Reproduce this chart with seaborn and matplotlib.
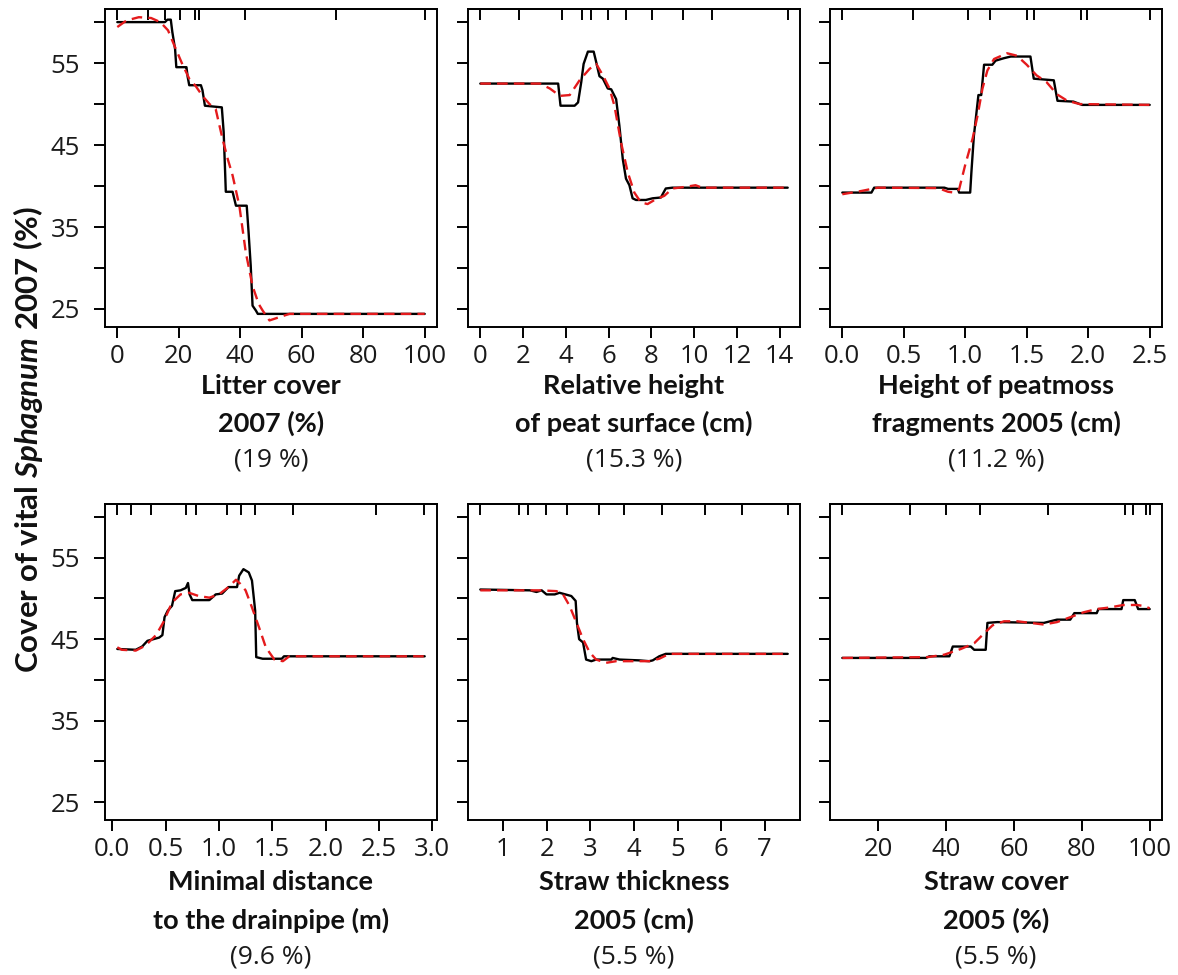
import numpy as np
import pandas as pd
import matplotlib
matplotlib.use("Agg")
import matplotlib.pyplot as plt
import seaborn as sns

# ---------------- data ----------------
litter_x = [0, 15.5, 16.3, 17.4, 17.9, 18.8, 19.2, 22.1, 22.5, 22.9, 23.4, 27.2, 27.7, 28.5, 34.0,
            34.6, 35.0, 35.3, 37.5, 38.6, 42.1, 42.7, 43.4, 44.0, 45.1, 45.7, 100]
litter_y = [60, 60, 60.3, 60.3, 58.8, 56.7, 54.5, 54.5, 54.5, 53.3, 52.3, 52.3, 51.7, 49.8, 49.6,
            46.6, 42.5, 39.3, 39.3, 37.6, 37.6, 34.4, 30.3, 25.4, 24.8, 24.4, 24.4]
litter_sx = [0, 3, 7, 11, 14, 16.5, 18.5, 21, 23.4, 25.5, 27.7, 30, 32, 34.2, 36, 37.5, 39.7, 41.8,
             44, 46, 47.3, 49.5, 52.7, 56, 100]
litter_sy = [59.4, 60.2, 60.6, 60.5, 60, 59, 57.2, 55, 53.1, 52.2, 51.0, 50.0, 49.4, 45.8, 43.2,
             41.3, 37.6, 31.9, 27.8, 25.6, 24.8, 23.6, 24.0, 24.4, 24.4]
litter_rug = [0, 10.1, 15.6, 20.4, 25.4, 26.5, 41.4, 71.3, 100]

peat_x = [0, 3.64, 3.75, 4.41, 4.57, 4.72, 4.83, 5.03, 5.30, 5.42, 5.57, 5.73, 5.96, 6.12, 6.35,
          6.50, 6.66, 6.81, 6.97, 7.12, 7.28, 7.74, 8.05, 8.44, 8.67, 8.98, 14.37]
peat_y = [52.5, 52.5, 49.8, 49.8, 50.2, 52.7, 54.9, 56.4, 56.4, 55.1, 53.4, 53.1, 51.9, 51.8, 50.6,
          47.4, 43.3, 40.9, 40.1, 38.5, 38.3, 38.3, 38.5, 38.6, 39.7, 39.8, 39.8]
peat_sx = [0, 2.79, 3.25, 3.72, 4.18, 4.64, 5.11, 5.42, 5.73, 6.04, 6.27, 6.58, 6.89, 7.2, 7.51,
           7.82, 8.21, 8.6, 8.98, 9.6, 10.06, 10.37, 14.37]
peat_sy = [52.5, 52.5, 51.9, 51.0, 51.1, 52.9, 54.3, 54.9, 53.5, 51.9, 49.8, 45.3, 41.7, 39.2, 38.0,
           37.8, 38.4, 38.8, 39.7, 39.9, 40.1, 39.8, 39.8]
peat_rug = [0, 1.83, 3.8, 4.76, 5.16, 5.97, 6.82, 8.03, 9.46, 10.85, 14.37]

frag_x = [0, 0.237, 0.259, 0.83, 0.86, 0.94, 0.95, 1.04, 1.05, 1.07, 1.107, 1.13, 1.153, 1.22,
          1.247, 1.315, 1.37, 1.53, 1.557, 1.72, 1.75, 1.88, 1.95, 2.5]
frag_y = [39.2, 39.2, 39.8, 39.8, 39.65, 39.65, 39.2, 39.2, 41.7, 46.1, 51.1, 51.1, 54.8, 54.8,
          55.3, 55.6, 55.8, 55.8, 53.1, 52.9, 50.4, 50.3, 49.9, 49.9]
frag_sx = [0, 0.156, 0.29, 0.78, 0.86, 0.91, 0.95, 1.0, 1.06, 1.1, 1.14, 1.18, 1.234, 1.34, 1.42,
           1.5, 1.58, 1.66, 1.745, 1.83, 1.93, 2.5]
frag_sy = [39.0, 39.4, 39.8, 39.75, 39.3, 39.2, 39.6, 42.6, 45.8, 48.6, 51.9, 54.1, 55.5, 56.2,
           55.9, 54.8, 53.5, 52.7, 51.2, 50.4, 50.0, 49.9]
frag_rug = [0, 0.574, 1.026, 1.198, 1.502, 1.556, 1.939, 1.987, 2.5]

drain_x = [0.047, 0.22, 0.28, 0.33, 0.44, 0.47, 0.49, 0.52, 0.56, 0.59, 0.64, 0.69, 0.71, 0.725,
           0.75, 0.91, 0.97, 1.03, 1.09, 1.17, 1.19, 1.23, 1.28, 1.31, 1.34, 1.35, 1.41, 1.59,
           1.61, 2.93]
drain_y = [43.8, 43.7, 44.1, 44.8, 45.2, 45.5, 47.7, 48.5, 49.1, 50.9, 51.0, 51.3, 51.9, 50.5,
           49.8, 49.8, 50.5, 50.6, 51.4, 51.4, 52.8, 53.6, 53.2, 52.2, 48.5, 42.8, 42.6, 42.6,
           42.9, 42.9]
drain_sx = [0.047, 0.09, 0.22, 0.31, 0.41, 0.48, 0.56, 0.64, 0.72, 0.81, 0.91, 1.0, 1.09, 1.16,
            1.2, 1.25, 1.31, 1.375, 1.44, 1.52, 1.6, 1.66, 2.93]
drain_sy = [44.0, 43.7, 43.6, 44.2, 45.5, 47.1, 49.5, 50.5, 50.7, 50.3, 50.1, 50.5, 51.4, 52.3,
            51.8, 51.0, 48.9, 46.5, 44.0, 42.5, 42.3, 42.9, 42.9]
drain_rug = [0.047, 0.178, 0.36, 0.688, 0.787, 1.078, 1.203, 1.343, 1.693, 2.474, 2.921]

thick_x = [0.47, 1.61, 1.76, 1.88, 1.99, 2.18, 2.29, 2.56, 2.66, 2.69, 2.74, 2.83, 2.9, 3.02,
           3.13, 3.48, 3.51, 3.67, 4.12, 4.35, 4.43, 4.58, 4.73, 7.53]
thick_y = [51.1, 51.0, 50.8, 51.0, 50.5, 50.5, 50.7, 50.3, 49.7, 47.0, 45.0, 44.6, 42.5, 42.3,
           42.5, 42.5, 42.7, 42.5, 42.4, 42.3, 42.4, 42.9, 43.2, 43.2]
thick_sx = [0.47, 1.84, 2.22, 2.37, 2.52, 2.68, 2.83, 2.98, 3.13, 3.36, 3.59, 3.97, 4.35, 4.58,
            4.81, 7.53]
thick_sy = [51.0, 51.0, 50.9, 50.5, 49.1, 47.0, 45.0, 43.4, 42.5, 42.1, 42.3, 42.3, 42.3, 42.6,
            43.2, 43.2]
thick_rug = [0.47, 1.37, 1.57, 1.98, 2.47, 3.19, 3.76, 4.64, 5.64, 6.48, 7.53]

straw_x = [9.46, 34.1, 35.1, 41.0, 42.0, 47.3, 48.3, 51.7, 52.2, 55.1, 68.8, 72.7, 76.6, 77.8,
           84.4, 84.9, 91.7, 92.2, 95.6, 96.6, 100]
straw_y = [42.7, 42.7, 42.9, 42.9, 44.1, 44.1, 43.7, 43.7, 47.0, 47.1, 47.0, 47.4, 47.4, 48.2,
           48.2, 48.7, 48.7, 49.8, 49.8, 48.7, 48.7]
straw_sx = [9.46, 34.6, 39.5, 44.4, 48.3, 51.2, 53.7, 57.1, 61.0, 64.9, 68.8, 72.7, 76.6, 80.5,
            84.4, 88.3, 92.2, 96.1, 98.0, 100]
straw_sy = [42.7, 42.8, 43.1, 43.8, 44.5, 45.7, 46.7, 47.2, 47.2, 47.0, 46.8, 47.1, 47.7, 48.3,
            48.7, 48.9, 49.2, 49.2, 49.1, 48.8]
straw_rug = [9.5, 29.5, 40, 50.1, 70, 92.7, 95.2, 98.9, 100]

xlabels = ["Litter cover\n2007 (%)", "Relative height\nof peat surface (cm)",
           "Height of peatmoss\nfragments 2005 (cm)", "Minimal distance\nto the drainpipe (m)",
           "Straw thickness\n2005 (cm)", "Straw cover\n2005 (%)"]
importance = ["(19 %)", "(15.3 %)", "(11.2 %)", "(9.6 %)", "(5.5 %)", "(5.5 %)"]
xticks_list = [[0, 20, 40, 60, 80, 100], [0, 2, 4, 6, 8, 10, 12, 14],
               [0.0, 0.5, 1.0, 1.5, 2.0, 2.5], [0.0, 0.5, 1.0, 1.5, 2.0, 2.5, 3.0],
               [1, 2, 3, 4, 5, 6, 7], [20, 40, 60, 80, 100]]
xtick_fmt = ["{:.0f}", "{:.0f}", "{:.1f}", "{:.1f}", "{:.0f}", "{:.0f}"]
yticks = [25, 30, 35, 40, 45, 50, 55, 60]
ytick_labels = ["25", "", "35", "", "45", "", "55", ""]
ylabel = "Cover of vital $\\mathit{Sphagnum}$ 2007 (%)"

panels = [
    (litter_x, litter_y, litter_sx, litter_sy, litter_rug),
    (peat_x, peat_y, peat_sx, peat_sy, peat_rug),
    (frag_x, frag_y, frag_sx, frag_sy, frag_rug),
    (drain_x, drain_y, drain_sx, drain_sy, drain_rug),
    (thick_x, thick_y, thick_sx, thick_sy, thick_rug),
    (straw_x, straw_y, straw_sx, straw_sy, straw_rug),
]

# ---------------- style ----------------
sns.set_theme(style="ticks")
plt.rcParams["font.family"] = ["Open Sans", "DejaVu Sans"]
plt.rcParams["mathtext.fontset"] = "custom"
plt.rcParams["mathtext.rm"] = "Lato:bold"
plt.rcParams["mathtext.it"] = "Lato:italic:bold"
plt.rcParams["mathtext.bf"] = "Lato:bold"

RED = "#e41a1c"
W, H = 1178, 975
fig = plt.figure(figsize=(W / 100, H / 100), dpi=100)

col_left = [105, 468, 830]
col_w = 332
rows = [(9, 327), (504, 820)]
label_offsets = [(-24, -59, -96, -133), (-23, -62, -100, -137)]

for i, (bx, by, sx, sy, rug) in enumerate(panels):
    r, c = divmod(i, 3)
    top, bot = rows[r]
    ax = fig.add_axes([col_left[c] / W, 1 - bot / H, col_w / W, (bot - top) / H])
    sns.lineplot(x=bx, y=by, ax=ax, color="black", lw=1.7, sort=False, estimator=None)
    sns.lineplot(x=sx, y=sy, ax=ax, color=RED, lw=1.7, linestyle=(0, (4.5, 2.6)),
                 sort=False, estimator=None)
    lo, hi = min(bx), max(bx)
    pad = 0.04 * (hi - lo)
    ax.set_xlim(lo - pad, hi + pad)
    ax.set_ylim(22.8, 61.6)
    ax.set_xticks(xticks_list[i])
    ax.set_xticklabels([xtick_fmt[i].format(t) for t in xticks_list[i]])
    ax.set_yticks(yticks)
    if c == 0:
        ax.set_yticklabels(ytick_labels)
    else:
        ax.set_yticklabels([])
    ax.tick_params(axis="both", direction="out", length=8, width=1.4, color="black",
                   labelsize=18.5, labelcolor="#1a1a1a", bottom=True, left=True)
    ax.tick_params(axis="x", pad=4)
    ax.tick_params(axis="y", pad=10)
    for sp in ax.spines.values():
        sp.set_visible(True)
        sp.set_color("black")
        sp.set_linewidth(1.4)
    ax.set_xlabel("")
    ax.set_ylabel("")
    # rug of deciles on top axis
    sec = ax.secondary_xaxis("top")
    sec.set_xticks(rug)
    sec.tick_params(direction="in", length=8, width=1.4, color="black", labeltop=False)
    sec.spines["top"].set_linewidth(1.4)
    lines = xlabels[i].split("\n")
    offs = label_offsets[r]
    ax.annotate(lines[0], xy=(0.5, 0), xycoords="axes fraction", xytext=(0, offs[1]),
                textcoords="offset pixels", ha="center", va="center", fontsize=19.5,
                fontweight="bold", family="Lato", color="#111111")
    ax.annotate(lines[1], xy=(0.5, 0), xycoords="axes fraction", xytext=(0, offs[2]),
                textcoords="offset pixels", ha="center", va="center", fontsize=19.5,
                fontweight="bold", family="Lato", color="#111111")
    ax.annotate(importance[i], xy=(0.5, 0), xycoords="axes fraction", xytext=(0, offs[3]),
                textcoords="offset pixels", ha="center", va="center", fontsize=19,
                family="Open Sans", color="#1a1a1a")

fig.text(28 / W, 1 - 440 / H, ylabel, rotation=90, ha="center", va="center",
         fontsize=22.5, fontweight="bold", family="Lato", color="#111111")

fig.savefig("out.png", dpi=100)
